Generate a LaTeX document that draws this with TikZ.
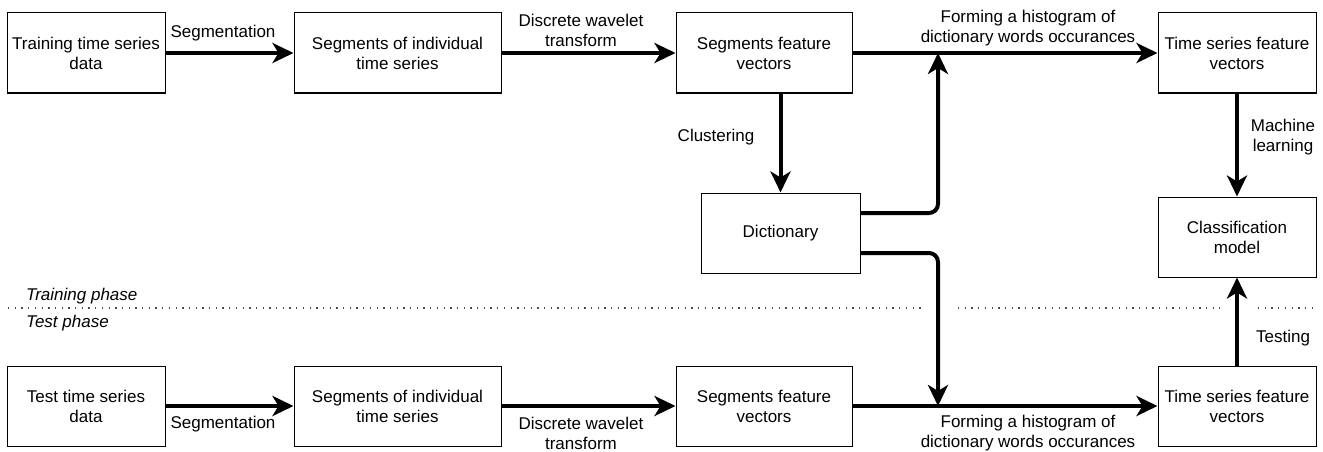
\documentclass[tikz,border=0pt]{standalone}
\usepackage{fontspec}
\setmainfont{Liberation Sans}
\usetikzlibrary{arrows.meta}
\begin{document}
\begin{tikzpicture}[x=1pt,y=-1pt,
  box/.style={draw=black,line width=1pt,minimum height=80pt,align=center,inner sep=0pt,
    font=\fontsize{17}{20}\selectfont},
  flow/.style={line width=4pt,-{Stealth[length=21pt,width=20pt,inset=6pt]}},
  lbl/.style={align=center,inner sep=0pt,font=\fontsize{17}{20}\selectfont},
  phase/.style={anchor=west,inner sep=0pt,font=\fontsize{17}{20}\selectfont\itshape},
  sep/.style={line width=1.3pt,draw=black!70,dash pattern=on 1.3pt off 5.4pt}]
\useasboundingbox (0,0) rectangle (1323,452);
% top row
\node[box,minimum width=158pt] (a1) at (86,53) {Training time series\\data};
\node[box,minimum width=207pt] (a2) at (397.5,53) {Segments of individual\\time series};
\node[box,minimum width=176pt] (a3) at (764,53) {Segments feature\\vectors};
\node[box,minimum width=158pt] (a4) at (1237,53) {Time series feature\\vectors};
\node[box,minimum width=159pt] (dict) at (780.5,233) {Dictionary};
\node[box,minimum width=158pt] (cls) at (1237,237) {Classification\\model};
% bottom row
\node[box,minimum width=158pt] (b1) at (86,406) {Test time series\\data};
\node[box,minimum width=207pt] (b2) at (397.5,406) {Segments of individual\\time series};
\node[box,minimum width=176pt] (b3) at (764,406) {Segments feature\\vectors};
\node[box,minimum width=158pt] (b4) at (1237,406) {Time series feature\\vectors};
% junctions
\coordinate (j1) at (938,53);
\coordinate (j2) at (938,406);
% connectors top
\draw[flow] (a1) -- (a2);
\draw[flow] (a2) -- (a3);
\draw[flow] (a3) -- (a4);
\draw[flow] (dict.north |- a3.south) -- (dict.north);
\draw[flow,rounded corners=9pt] ([yshift=20pt]dict.east) -| (j1);
\draw[flow,rounded corners=9pt] ([yshift=-20pt]dict.east) -| (j2);
\draw[flow] (a4) -- (cls);
% connectors bottom
\draw[flow] (b1) -- (b2);
\draw[flow] (b2) -- (b3);
\draw[flow] (b3) -- (b4);
\draw[flow] (b4) -- (cls);
% labels
\node[lbl] (l1) at (223,33) {Segmentation};
\node[lbl] (l2) at (581,30) {Discrete wavelet\\transform};
\node[lbl] (l3) at (1028,28) {Forming a histogram of\\dictionary words occurances};
\node[lbl] (l4) at (716,137) {Clustering};
\node[lbl] (l5) at (1283,137) {Machine\\learning};
\node[lbl] (l6) at (1283,338) {Testing};
\node[lbl] (l7) at (223,424) {Segmentation};
\node[lbl] (l8) at (581,433) {Discrete wavelet\\transform};
\node[lbl] (l9) at (1028,433) {Forming a histogram of\\dictionary words occurances};
% phases
\node[phase] (tp) at (26,296) {Training phase};
\node[phase] (ts) at (26,323) {Test phase};
\draw[sep] (8,308) -- (922,308);
\draw[sep] (958,308) -- (1220,308);
\draw[sep] (1258,308) -- (1314,308);
\end{tikzpicture}
\end{document}
